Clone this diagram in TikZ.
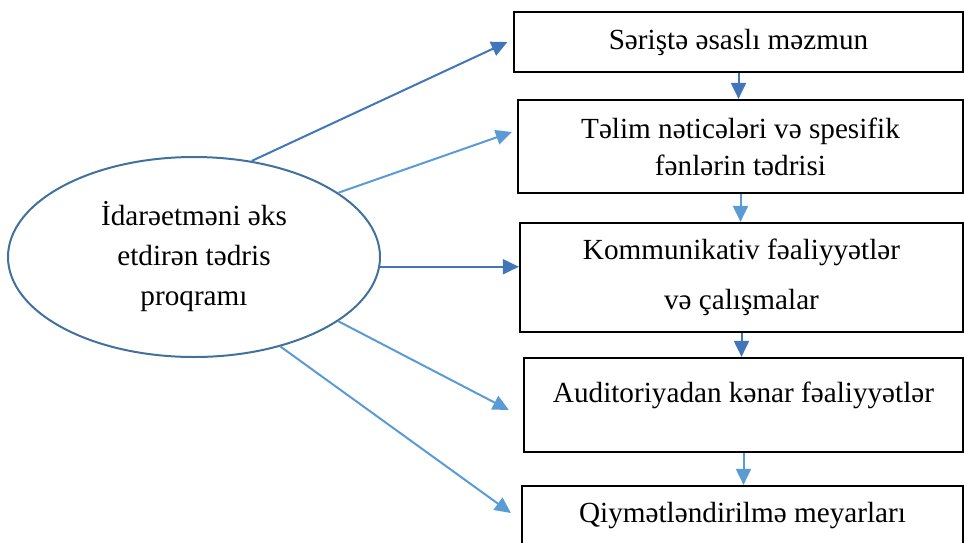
\documentclass[tikz,border=0pt]{standalone}
\usepackage{fontspec}
\setmainfont{Liberation Serif}
\usetikzlibrary{arrows.meta,shapes.geometric}
\definecolor{darkarrow}{RGB}{66,118,186}
\definecolor{lightarrow}{RGB}{91,155,213}
\definecolor{ovalline}{RGB}{65,113,156}
\tikzset{
    box/.style={draw=black, line width=1.1pt, fill=white, align=center, inner sep=0pt,
        font=\fontsize{14.6}{18.5}\selectfont},
    oval/.style={ellipse, draw=ovalline, line width=1pt, align=center, inner sep=0pt,
        minimum width=186pt, minimum height=100pt, font=\fontsize{14.6}{20}\selectfont},
    conn/.style={line width=1pt, -{Triangle[length=8pt,width=7.5pt]}},
}
\begin{document}
\begin{tikzpicture}[x=0.5pt, y=-0.5pt]
    \useasboundingbox (0,0) rectangle (964,542);

    % Program oval
    \node[oval] (prog) at (194,257) {İdarəetməni əks\\etdirən tədris\\proqramı};

    % Boxes on the right
    \node[box, line width=0.6pt, minimum width=224.5pt, minimum height=30pt] (b1) at (738.5,42)
        {Səriştə əsaslı məzmun};
    \node[box, minimum width=222.5pt, minimum height=46.5pt] (b2) at (740.5,146.5)
        {Təlim nəticələri və spesifik\\fənlərin tədrisi};
    \node[box, minimum width=221.5pt, minimum height=54.5pt] (b3) at (741.5,277.5)
        {Kommunikativ fəaliyyətlər\\[6.5pt]və çalışmalar};
    \node[box, minimum width=219.5pt, minimum height=47pt, text height=10pt, text depth=13pt] (b4) at (743.5,405)
        {Auditoriyadan kənar fəaliyyətlər};
    \node[box, minimum width=220.5pt, minimum height=30pt] (b5) at (742.5,516)
        {Qiymətləndirilmə meyarları};

    % Arrows from the oval
    \draw[conn, darkarrow] (prog.59) -- ([xshift=-3pt]b1.west);
    \draw[conn, lightarrow] (prog.24) -- ([xshift=-2.5pt, yshift=7.25pt]b2.west);
    \draw[conn, darkarrow] (prog.-3.7) -- (prog.-3.7 -| b3.west);
    \draw[conn, lightarrow] (prog.-24.4) -- ([xshift=-7pt, yshift=-2.5pt]b4.west);
    \draw[conn, lightarrow] (prog.-46.7) -- ([xshift=-5pt, yshift=1.5pt]b5.west);

    % Arrows down the column
    \draw[conn, darkarrow] (b1.south) -- (b1.south |- b2.north);
    \draw[conn, lightarrow] (b2.south) -- (b2.south |- b3.north);
    \draw[conn, darkarrow] (b3.south) -- (b3.south |- b4.north);
    \draw[conn, lightarrow] (b4.south) -- (b4.south |- b5.north);
\end{tikzpicture}
\end{document}
